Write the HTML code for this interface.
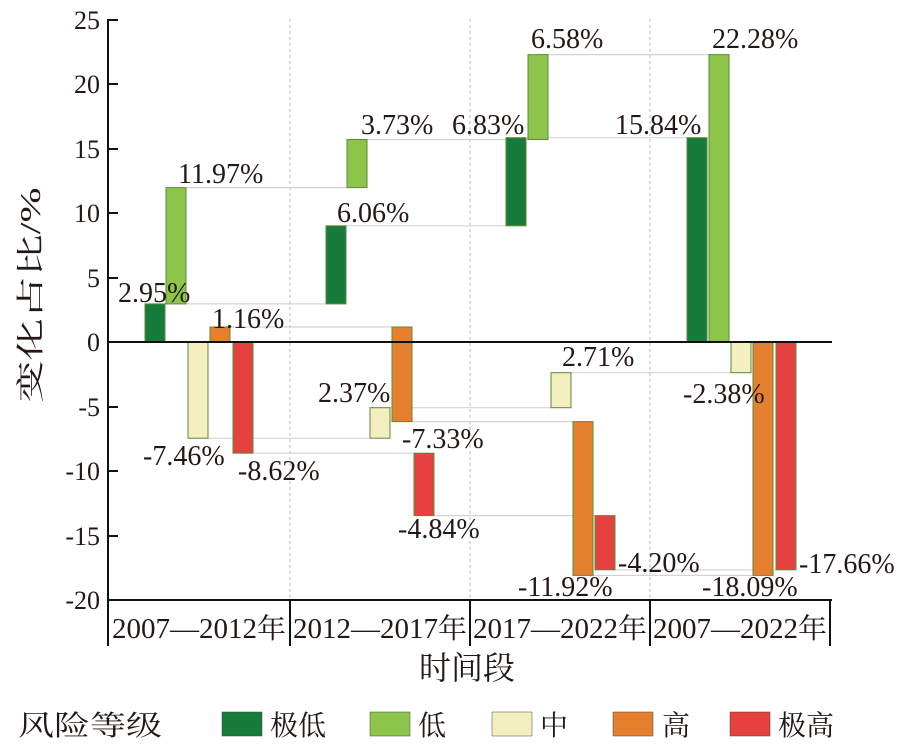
<!DOCTYPE html>
<html><head><meta charset="utf-8"><style>
body{margin:0;background:#fff}
svg{display:block}
text{font-family:"Liberation Serif","Noto Serif CJK SC",serif;fill:#231815}
.cj{font-family:"Liberation Serif","Noto Sans CJK SC",sans-serif}
.c{stroke:#d4d4d4;stroke-width:1.2}
.b{stroke:#5a8a3a;stroke-width:1}
</style></head><body>
<svg width="898" height="752" viewBox="0 0 898 752">
<g stroke="#bbb" stroke-dasharray="3,3" stroke-width="1">
<line x1="290" y1="19" x2="290" y2="600"/><line x1="470" y1="19" x2="470" y2="600"/><line x1="650" y1="19" x2="650" y2="600"/>
</g>
<g class="c">
<line x1="165" y1="303.9" x2="326" y2="303.9"/><line x1="346" y1="225.8" x2="506" y2="225.8"/><line x1="526" y1="137.7" x2="687" y2="137.7"/>
<line x1="186" y1="187.6" x2="347" y2="187.6"/><line x1="367" y1="139.5" x2="528" y2="139.5"/><line x1="548" y1="54.6" x2="709" y2="54.6"/>
<line x1="208" y1="438.2" x2="370" y2="438.2"/><line x1="390" y1="407.7" x2="551" y2="407.7"/><line x1="571" y1="372.7" x2="731" y2="372.7"/>
<line x1="231" y1="327" x2="392" y2="327"/><line x1="412" y1="421.6" x2="573" y2="421.6"/><line x1="593" y1="575.4" x2="753" y2="575.4"/>
<line x1="253" y1="453.2" x2="414" y2="453.2"/><line x1="434" y1="515.6" x2="595" y2="515.6"/><line x1="615" y1="569.8" x2="776" y2="569.8"/>
</g>
<g class="b">
<rect x="145" y="303.9" width="20" height="38.1" fill="#177b3b"/>
<rect x="166" y="187.6" width="20" height="116.3" fill="#8dc54b"/>
<rect x="188" y="342" width="20" height="96.2" fill="#f3efbf"/>
<rect x="210" y="327" width="20" height="15" fill="#e5812e"/>
<rect x="233" y="342" width="20" height="111.2" fill="#e5423f"/>
<rect x="326" y="225.8" width="20" height="78.1" fill="#177b3b"/>
<rect x="347" y="139.5" width="20" height="48.1" fill="#8dc54b"/>
<rect x="370" y="407.7" width="20" height="30.5" fill="#f3efbf"/>
<rect x="392" y="327" width="20" height="94.6" fill="#e5812e"/>
<rect x="414" y="453.2" width="20" height="62.4" fill="#e5423f"/>
<rect x="506" y="137.7" width="20" height="88.1" fill="#177b3b"/>
<rect x="528" y="54.6" width="20" height="84.9" fill="#8dc54b"/>
<rect x="551" y="372.7" width="20" height="35" fill="#f3efbf"/>
<rect x="573" y="421.6" width="20" height="153.8" fill="#e5812e"/>
<rect x="595" y="515.6" width="20" height="54.2" fill="#e5423f"/>
<rect x="687" y="137.7" width="20" height="204.3" fill="#177b3b"/>
<rect x="709" y="54.6" width="20" height="287.4" fill="#8dc54b"/>
<rect x="731" y="342" width="20" height="30.7" fill="#f3efbf"/>
<rect x="753" y="342" width="20" height="233.4" fill="#e5812e"/>
<rect x="776" y="342" width="20" height="227.8" fill="#e5423f"/>
</g>
<line x1="108" y1="342" x2="832" y2="342" stroke="#111" stroke-width="2"/>
<g stroke="#111" stroke-width="2">
<line x1="108" y1="19" x2="108" y2="646"/>
<line x1="108" y1="600" x2="832" y2="600"/>
<line x1="290" y1="600" x2="290" y2="646"/><line x1="470" y1="600" x2="470" y2="646"/><line x1="650" y1="600" x2="650" y2="646"/><line x1="830" y1="600" x2="830" y2="646"/>
<line x1="108" y1="20" x2="118" y2="20"/><line x1="108" y1="84" x2="118" y2="84"/><line x1="108" y1="149" x2="118" y2="149"/><line x1="108" y1="213" x2="118" y2="213"/><line x1="108" y1="278" x2="118" y2="278"/><line x1="108" y1="407" x2="118" y2="407"/><line x1="108" y1="471" x2="118" y2="471"/><line x1="108" y1="536" x2="118" y2="536"/>
</g>
<g font-size="26" text-anchor="end">
<text x="100" y="29">25</text><text x="100" y="93">20</text><text x="100" y="158">15</text><text x="100" y="222">10</text><text x="100" y="287">5</text><text x="100" y="351">0</text><text x="100" y="416">-5</text><text x="100" y="480">-10</text><text x="100" y="545">-15</text><text x="100" y="609">-20</text>
</g>
<g font-size="28">
<text x="118" y="302">2.95%</text><text x="178" y="183">11.97%</text><text x="212" y="328">1.16%</text>
<text x="143" y="465">-7.46%</text><text x="238" y="480">-8.62%</text>
<text x="337" y="222">6.06%</text><text x="361" y="134">3.73%</text><text x="318" y="402">2.37%</text>
<text x="402" y="448">-7.33%</text><text x="398" y="538">-4.84%</text>
<text x="452" y="134">6.83%</text><text x="531" y="48">6.58%</text><text x="562" y="366">2.71%</text>
<text x="518" y="596">-11.92%</text><text x="618" y="572">-4.20%</text>
<text x="615" y="134">15.84%</text><text x="712" y="48">22.28%</text><text x="683" y="403">-2.38%</text>
<text x="702" y="596">-18.09%</text><text x="799" y="573">-17.66%</text>
</g>
<g font-size="28" class="cj" text-anchor="middle">
<text x="199" y="638" textLength="174" lengthAdjust="spacingAndGlyphs">2007—2012年</text><text x="380" y="638" textLength="174" lengthAdjust="spacingAndGlyphs">2012—2017年</text><text x="560" y="638" textLength="174" lengthAdjust="spacingAndGlyphs">2017—2022年</text><text x="740" y="638" textLength="174" lengthAdjust="spacingAndGlyphs">2007—2022年</text>
<text x="467" y="679" font-size="32">时间段</text>
<text transform="translate(40,295) rotate(-90)" font-size="28" textLength="215" lengthAdjust="spacingAndGlyphs">变化占比/%</text>
</g>
<g font-size="28" class="cj">
<text x="18" y="735" textLength="144" lengthAdjust="spacingAndGlyphs">风险等级</text>
<rect x="222" y="712" width="40" height="24" fill="#177b3b" stroke="#444" stroke-width="0.5"/><text x="270" y="735">极低</text>
<rect x="370" y="712" width="40" height="24" fill="#8dc54b" stroke="#444" stroke-width="0.5"/><text x="418" y="735">低</text>
<rect x="492" y="712" width="40" height="24" fill="#f3efbf" stroke="#444" stroke-width="0.5"/><text x="540" y="735">中</text>
<rect x="613" y="712" width="40" height="24" fill="#e5812e" stroke="#444" stroke-width="0.5"/><text x="662" y="735">高</text>
<rect x="730" y="712" width="40" height="24" fill="#e5423f" stroke="#444" stroke-width="0.5"/><text x="778" y="735">极高</text>
</g>
</svg>
</body></html>
